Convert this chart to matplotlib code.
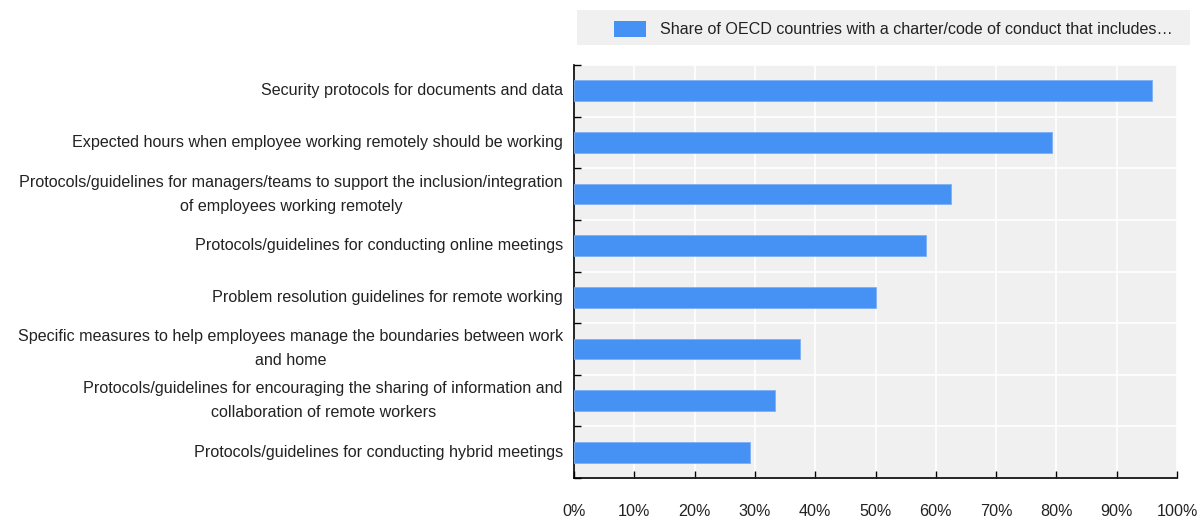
import matplotlib
matplotlib.use("Agg")
import matplotlib.pyplot as plt
from matplotlib.patches import Rectangle
from matplotlib.ticker import FixedLocator, PercentFormatter

categories = [
    "Security protocols for documents and data",
    "Expected hours when employee working remotely should be working",
    "Protocols/guidelines for managers/teams to support the inclusion/integration\nof employees working remotely",
    "Protocols/guidelines for conducting online meetings",
    "Problem resolution guidelines for remote working",
    "Specific measures to help employees manage the boundaries between work\nand home",
    "Protocols/guidelines for encouraging the sharing of information and\ncollaboration of remote workers",
    "Protocols/guidelines for conducting hybrid meetings",
]
values = [95.8, 79.2, 62.5, 58.3, 50.0, 37.5, 33.3, 29.2]
series_label = "Share of OECD countries with a charter/code of conduct that includes\u2026"
x_ticks = [0, 10, 20, 30, 40, 50, 60, 70, 80, 90, 100]

plt.rcParams['font.family'] = ['Liberation Sans', 'DejaVu Sans']

BAR = "#4691F4"
BG = "#F0F0F0"
FS = 11.6

fig = plt.figure(figsize=(12.03, 5.2), dpi=100)
ax = fig.add_axes([574 / 1203, 1 - 478 / 520, (1177 - 574) / 1203, (478 - 65) / 520])
ax.set_facecolor(BG)

n = len(categories)
ypos = list(range(n))
ax.barh(ypos, values, height=0.4, color=BAR, edgecolor="#7FB0F5", linewidth=0.6, zorder=3)
ax.set_ylim(n - 0.5, -0.5)
ax.set_xlim(0, 100)

ax.set_yticks(ypos)
ax.set_yticklabels(categories, fontsize=FS, color="#222222", ha="right", va="center",
                   multialignment="center", linespacing=1.75)
ax.tick_params(axis="y", which="major", length=0, pad=8)
ax.yaxis.set_minor_locator(FixedLocator([i - 0.5 for i in range(n + 1)]))
ax.tick_params(axis="y", which="minor", direction="in", length=5, width=1, color="black")

ax.xaxis.set_major_locator(FixedLocator(x_ticks))
ax.xaxis.set_major_formatter(PercentFormatter(decimals=0))
ax.tick_params(axis="x", direction="in", length=5, width=1, labelsize=FS, pad=19, labelcolor="#222222")

ax.grid(axis="x", color="white", linewidth=1.2, zorder=1)
ax.grid(axis="y", which="minor", color="white", linewidth=1.2, zorder=1)
ax.set_axisbelow(True)

for s in ["top", "right"]:
    ax.spines[s].set_visible(False)
ax.spines["left"].set_linewidth(1.2)
ax.spines["bottom"].set_linewidth(1.2)

# legend box
fig.patches.append(Rectangle((577 / 1203, 1 - 45 / 520), (1190 - 577) / 1203, 35 / 520,
                             transform=fig.transFigure, facecolor=BG, edgecolor="none"))
fig.patches.append(Rectangle((614 / 1203, 1 - 37 / 520), 32 / 1203, 16 / 520,
                             transform=fig.transFigure, facecolor=BAR, edgecolor="none"))
fig.text(660 / 1203, 1 - 29 / 520, series_label, fontsize=FS, va="center", ha="left", color="#222222")

fig.savefig("out.png", dpi=100)
